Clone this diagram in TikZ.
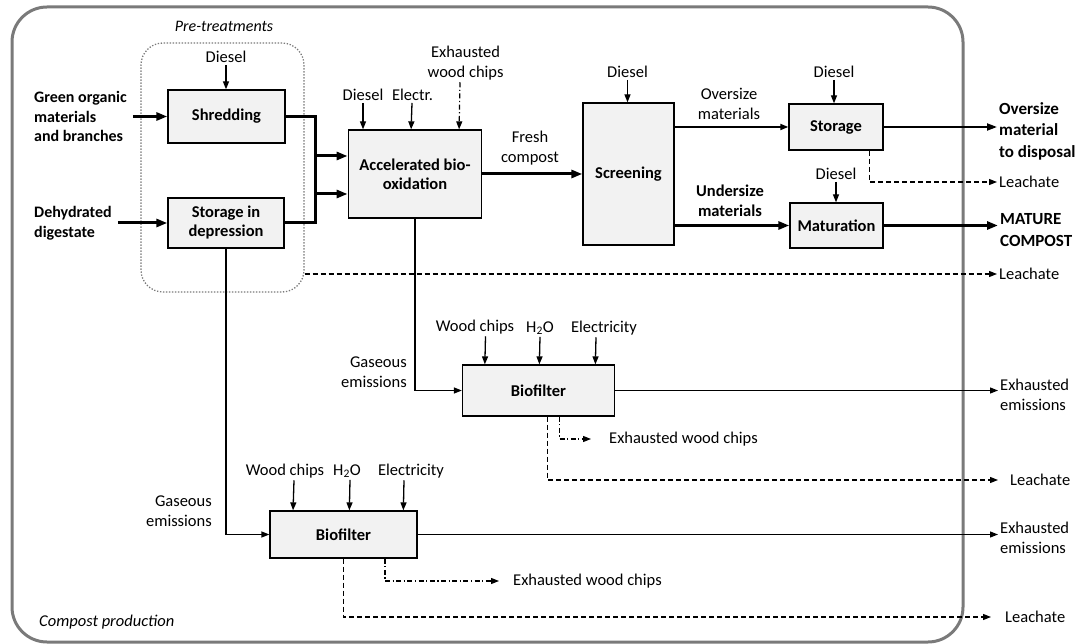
\documentclass[tikz,border=0pt]{standalone}
\usepackage{fontspec}
\setmainfont{Carlito}
\usetikzlibrary{arrows.meta}
\definecolor{boxgray}{HTML}{F2F2F2}
\definecolor{framegray}{HTML}{7A7A7A}
\begin{document}
\begin{tikzpicture}[x=1pt,y=-1pt,
  every node/.style={font=\fontsize{16.5}{20}\selectfont, inner sep=2pt},
  proc/.style={draw=black, line width=1.3pt, fill=boxgray, inner sep=0pt, align=center, font=\fontsize{16.5}{19}\selectfont\bfseries},
  lbl/.style={align=center},
  bin/.style={align=left, font=\fontsize{16}{19.5}\selectfont\bfseries},
  bout/.style={align=left, font=\fontsize{17}{21.5}\selectfont\bfseries},
  rlbl/.style={align=left},
  thinar/.style={line width=1.3pt, -{Triangle[length=8pt,width=6pt]}},
  medar/.style={line width=2pt, -{Triangle[length=10pt,width=7pt]}},
  thickar/.style={line width=3pt, -{Triangle[length=11pt,width=8pt]}},
  leach/.style={line width=1.2pt, dash pattern=on 5pt off 3pt, -{Triangle[length=8pt,width=6pt]}},
  chips/.style={line width=1.2pt, dash pattern=on 5pt off 2.5pt on 1.2pt off 2.5pt, -{Triangle[length=8pt,width=6pt]}},
  frame/.style={draw=framegray, line width=3pt, rounded corners=35pt},
  pretreat/.style={draw=framegray, line width=1.3pt, dash pattern=on 1.3pt off 1.7pt, rounded corners=22pt, inner sep=0pt},
]
\useasboundingbox (0,0) rectangle (1079,644);
% outer frame
\draw[frame] (12,7) rectangle (963,642);
\node[font=\fontsize{16.5}{19}\selectfont\itshape, anchor=west] (cp) at (37,622) {Compost production};

% pre-treatments group
\node[pretreat, minimum width=163pt, minimum height=249pt] (pre) at (222.5,167.5) {};
\node[font=\fontsize{16}{19}\selectfont\itshape] (pretitle) at (224,26) {Pre-treatments};

% process boxes
\node[proc, minimum width=117pt, minimum height=53pt] (shred) at (226.5,116.5) {Shredding};
\node[proc, minimum width=116pt, minimum height=50pt] (sdep) at (226,223) {Storage in\\depression};
\node[proc, minimum width=133.5pt, minimum height=88pt] (abo) at (415,174) {Accelerated bio-\\oxidation};
\node[proc, minimum width=91pt, minimum height=142pt] (screen) at (628.5,174) {Screening};
\node[proc, minimum width=94pt, minimum height=46pt] (stor) at (836,127) {Storage};
\node[proc, minimum width=93pt, minimum height=45pt] (mat) at (836.5,225.5) {Maturation};
\node[proc, minimum width=152pt, minimum height=51pt] (bio1) at (538.5,390.5) {Biofilter};
\node[proc, minimum width=147pt, minimum height=47pt] (bio2) at (343.5,534.5) {Biofilter};

% input labels
\node[bin, anchor=west] (green) at (32,116.5) {Green organic\\materials\\and branches};
\node[bin, anchor=west] (dehyd) at (32,223) {Dehydrated\\digestate};
\node (d1) at (226,57) {Diesel};
\node (d2) at (363,95) {Diesel};
\node (el) at (412.5,95) {Electr.};
\node[lbl] (ewc0) at (465.6,63) {Exhausted\\wood chips};
\node[lbl] (fresh) at (530,148.5) {Fresh\\compost};
\node (d3) at (627.5,72) {Diesel};
\node[lbl] (over) at (729,103.5) {Oversize\\materials};
\node (d4) at (834,72) {Diesel};
\node[lbl, font=\fontsize{16.5}{20}\selectfont\bfseries] (under) at (730,201) {Undersize\\materials};
\node (d5) at (836,174) {Diesel};

% outputs
\node[bout, anchor=west] (disp) at (997,131) {Oversize\\material\\to disposal};
\node[rlbl, anchor=west] (l1) at (997,182) {Leachate};
\node[bout, anchor=west] (mc) at (998,230) {MATURE\\COMPOST};
\node[rlbl, anchor=west] (l0) at (997,274) {Leachate};

% biofilter 1
\node[lbl, align=right, anchor=east] (gas1) at (409,372) {Gaseous\\emissions};
\node (wc1) at (475,327) {Wood chips};
\node (h2o1) at (540,328) {H\textsubscript{2}O};
\node (elc1) at (604,328) {Electricity};
\node[rlbl, anchor=west] (ee1) at (998,394.5) {Exhausted\\emissions};
\node[rlbl, anchor=west] (ewc1) at (607,439) {Exhausted wood chips};
\node[rlbl, anchor=west] (l2) at (1008,480) {Leachate};

% biofilter 2
\node[lbl, align=right, anchor=east] (gas2) at (214,511) {Gaseous\\emissions};
\node (wc2) at (285,471) {Wood chips};
\node (h2o2) at (347,471) {H\textsubscript{2}O};
\node (elc2) at (411,471) {Electricity};
\node[rlbl, anchor=west] (ee2) at (998,538) {Exhausted\\emissions};
\node[rlbl, anchor=west] (ewc2) at (511,581) {Exhausted wood chips};
\node[rlbl, anchor=west] (l3) at (1003,617) {Leachate};

% main flow
\draw[thickar] ([xshift=4pt]green.east) -- (green.east -| shred.west);
\draw[thickar] ([xshift=4pt]dehyd.east |- sdep.west) -- (sdep.west);
\draw[thickar] (shred.east) -- ++(30,0) |- ([yshift=-20pt]abo.west);
\draw[thickar] (sdep.east) -- ++(31,0) |- ([yshift=18pt]abo.west);
\draw[thickar] (abo.east) -- (screen.west);
\draw[thinar, line width=1.8pt] (screen.east |- stor.west) -- (stor.west);
\draw[thickar] (screen.east |- mat.west) -- (mat.west);
\draw[medar] (stor.east) -- (stor.east -| disp.west);
\draw[thickar] (mat.east) -- (mat.east -| mc.west);

% diesel / energy inputs
\draw[thinar] (d1.south) -- (d1.south |- shred.north);
\draw[thinar] (d2.south) -- (d2.south |- abo.north);
\draw[thinar] ([xshift=-0.5pt]el.south) -- ([xshift=63.5pt]abo.north west);
\draw[chips] ([xshift=-5.6pt]ewc0.south) -- ([xshift=111.5pt]abo.north west);
\draw[thinar] (d3.south) -- (d3.south |- screen.north);
\draw[thinar] (d4.south) -- (d4.south |- stor.north);
\draw[thinar] (d5.south) -- (d5.south |- mat.north);

% leachates
\draw[leach] ([xshift=33.5pt]stor.south) |- (l1.west);
\draw[leach] (pre.east |- l0.west) -- (l0.west);

% biofilter 1 connections
\draw[thinar] (abo.south) |- (bio1.west);
\draw[thinar] ([xshift=10.5pt]wc1.south) -- ([xshift=23pt]bio1.north west);
\draw[thinar] (h2o1.south) -- ([xshift=77.5pt]bio1.north west);
\draw[thinar] ([xshift=-8pt]elc1.south) -- ([xshift=133.5pt]bio1.north west);
\draw[thinar] (bio1.east) -- (bio1.east -| ee1.west);
\draw[chips] ([xshift=21pt]bio1.south) |- ([xshift=-16pt]ewc1.west);
\draw[leach] ([xshift=9pt]bio1.south) |- ([xshift=-10pt]l2.west);

% biofilter 2 connections
\draw[thinar] (sdep.south) |- (bio2.west);
\draw[thinar] ([xshift=9pt]wc2.south) -- ([xshift=23.7pt]bio2.north west);
\draw[thinar] ([xshift=3pt]h2o2.south) -- ([xshift=80pt]bio2.north west);
\draw[thinar] ([xshift=-7pt]elc2.south) -- ([xshift=134pt]bio2.north west);
\draw[thinar] (bio2.east) -- (bio2.east -| ee2.west);
\draw[chips] ([xshift=41.5pt]bio2.south) |- ([xshift=-12pt]ewc2.west);
\draw[leach] (bio2.south) |- ([xshift=-12pt]l3.west);
\end{tikzpicture}
\end{document}
